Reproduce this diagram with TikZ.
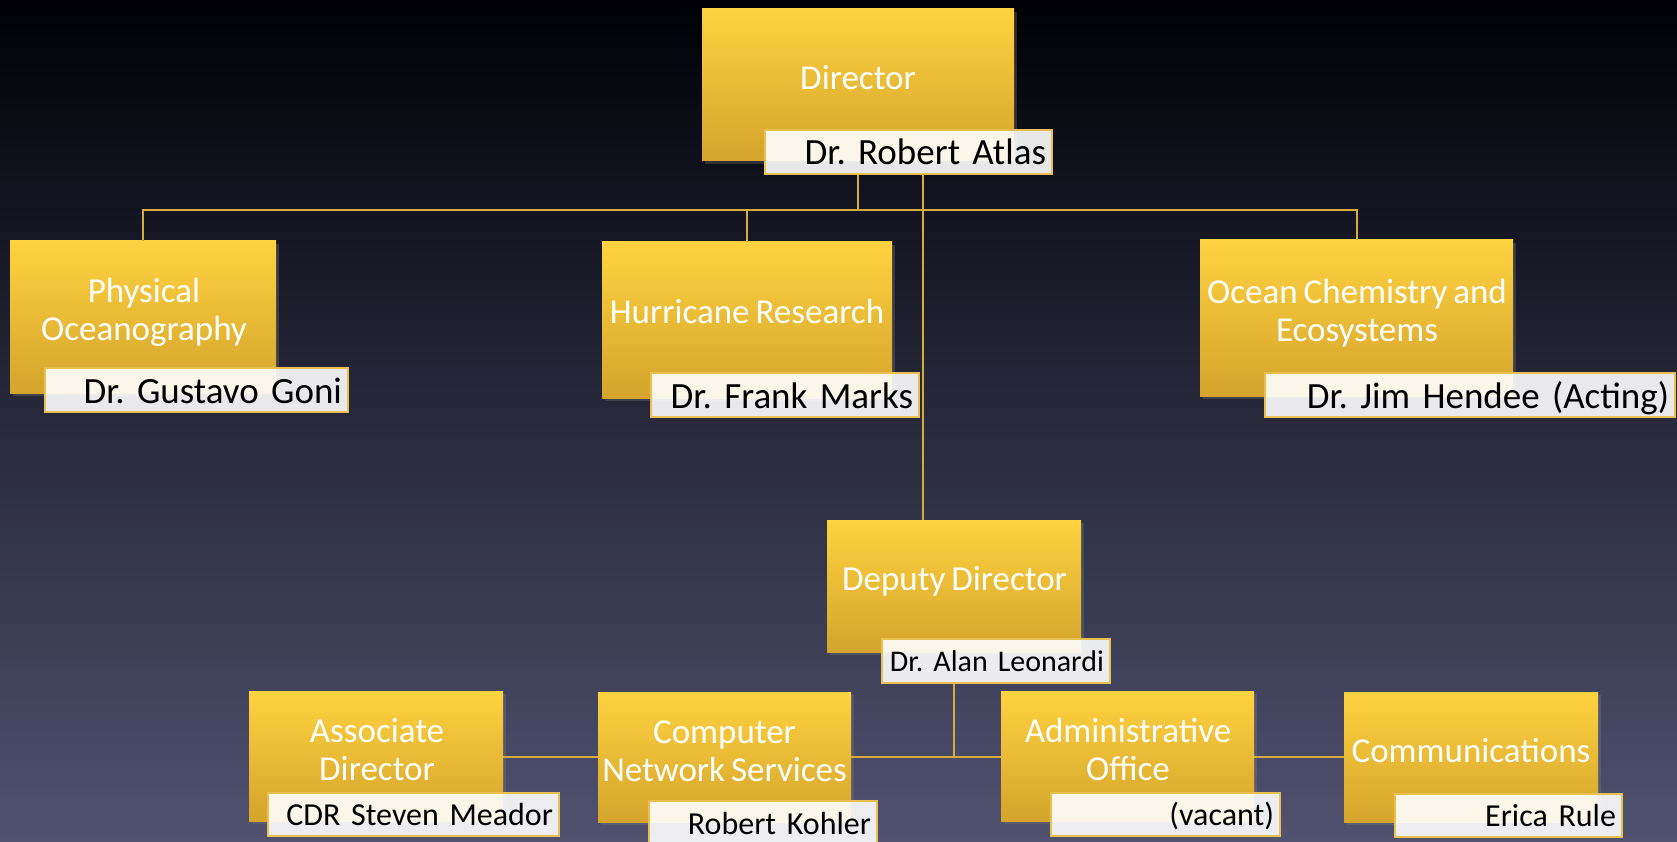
\documentclass[tikz,border=0pt]{standalone}
\usepackage{fontspec}
\setmainfont{Carlito}[WordSpace=0.75]
\usetikzlibrary{shadows}
\frenchspacing
\definecolor{goldtop}{RGB}{255,210,64}
\definecolor{goldbot}{RGB}{212,164,44}
\definecolor{lineclr}{RGB}{214,172,64}
\definecolor{nameborder}{RGB}{232,192,82}
\definecolor{bgtop}{RGB}{0,0,6}
\definecolor{bgmid}{RGB}{40,40,66}
\definecolor{bgbot}{RGB}{80,82,112}
\begin{document}
\begin{tikzpicture}[x=1pt,y=-1pt,
  goldbox/.style={rectangle, top color=goldtop, bottom color=goldbot, draw=none, inner sep=0pt,
    drop shadow={opacity=0.3, shadow xshift=3pt, shadow yshift=-3pt}},
  titletext/.style={text=white, align=center, font=\fontsize{35}{38}\selectfont, inner sep=0pt, anchor=base},
  namebox/.style={rectangle, draw=nameborder, line width=1.5pt, fill=white, fill opacity=0.9, text opacity=1,
    text=black, inner xsep=6pt, inner ysep=0pt, align=right, text depth=0pt},
  nameL/.style={namebox, font=\fontsize{37}{40}\selectfont, text height=26pt},
  nameM/.style={namebox, font=\fontsize{30}{33}\selectfont, text height=21pt},
  nameS/.style={namebox, font=\fontsize{32}{35}\selectfont, text height=22.5pt},
  conn/.style={draw=lineclr, line width=2pt}]
\useasboundingbox (0,0) rectangle (1677,842);
\fill[top color=bgtop, middle color=bgmid, bottom color=bgbot] (0,0) rectangle (1677,842);

% Director
\node[goldbox, minimum width=312pt, minimum height=152pt] (dir) at (858,85) {};
\node[titletext] (dirT) at (858,90) {Director};
\node[nameL, minimum width=287pt, text width=275pt, minimum height=44pt] (atlas) at (908.5,152) {Dr. Robert Atlas};

% Physical Oceanography
\node[goldbox, minimum width=266pt, minimum height=152pt] (phys) at (143,317) {};
\node[titletext] (physT) at (144,340) {Physical\\Oceanography};
\node[nameL, minimum width=303pt, text width=291pt, minimum height=44pt] (goni) at (196.5,390) {Dr. Gustavo Goni};

% Hurricane Research
\node[goldbox, minimum width=290pt, minimum height=156pt] (hurr) at (747,320) {};
\node[titletext] (hurrT) at (747,323) {Hurricane Research};
\node[nameL, minimum width=268pt, text width=256pt, minimum height=44pt] (marks) at (785,395) {Dr. Frank Marks};

% Ocean Chemistry
\node[goldbox, minimum width=313pt, minimum height=156pt] (ocean) at (1356.5,318) {};
\node[titletext] (oceanT) at (1357,341) {Ocean Chemistry and\\Ecosystems};
\node[nameL, minimum width=410pt, text width=398pt, minimum height=44pt] (hendee) at (1470,395) {Dr. Jim Hendee (Acting)};

% Deputy Director
\node[goldbox, minimum width=254pt, minimum height=132pt] (dep) at (954,586) {};
\node[titletext] (depT) at (954.5,590) {Deputy Director};
\node[nameM, minimum width=228pt, text width=216pt, minimum height=44pt] (leo) at (996,661) {Dr. Alan Leonardi};

% Bottom row
\node[goldbox, minimum width=254pt, minimum height=130pt] (assoc) at (376,756) {};
\node[titletext] (assocT) at (377,780) {Associate\\Director};
\node[nameS, minimum width=291pt, text width=279pt, minimum height=43pt] (meador) at (413.5,814.5) {CDR Steven Meador};

\node[goldbox, minimum width=253pt, minimum height=130pt] (comp) at (724.5,757) {};
\node[titletext] (compT) at (724.5,781) {Computer\\Network Services};
\node[nameS, minimum width=228pt, text width=216pt, minimum height=44pt] (kohler) at (763,823) {Robert Kohler};

\node[goldbox, minimum width=253pt, minimum height=130pt] (admin) at (1127.5,756) {};
\node[titletext] (adminT) at (1128,780) {Administrative\\Office};
\node[nameS, minimum width=229pt, text width=217pt, minimum height=43pt] (vacant) at (1165.5,814.5) {(vacant)};

\node[goldbox, minimum width=254pt, minimum height=130pt] (comms) at (1471,757) {};
\node[titletext] (commsT) at (1471,762) {Communications};
\node[nameS, minimum width=227pt, text width=215pt, minimum height=43pt] (rule) at (1508.5,815.5) {Erica Rule};

% Connectors
\coordinate (topbus) at (858,210);
\coordinate (depin) at (923,174);
\coordinate (botbus) at (954,757);
\draw[conn] (topbus |- atlas.south) -- (topbus);
\draw[conn] (phys.north) -- (phys.north |- topbus) -- (ocean.north |- topbus) -- (ocean.north);
\draw[conn] (hurr.north |- topbus) -- (hurr.north);
\draw[conn] (depin) -- (depin |- dep.north);
\draw[conn] (botbus |- leo.south) -- (botbus);
\draw[conn] (assoc.east |- botbus) -- (comp.west |- botbus);
\draw[conn] (comp.east |- botbus) -- (admin.west |- botbus);
\draw[conn] (admin.east |- botbus) -- (comms.west |- botbus);
\end{tikzpicture}
\end{document}
